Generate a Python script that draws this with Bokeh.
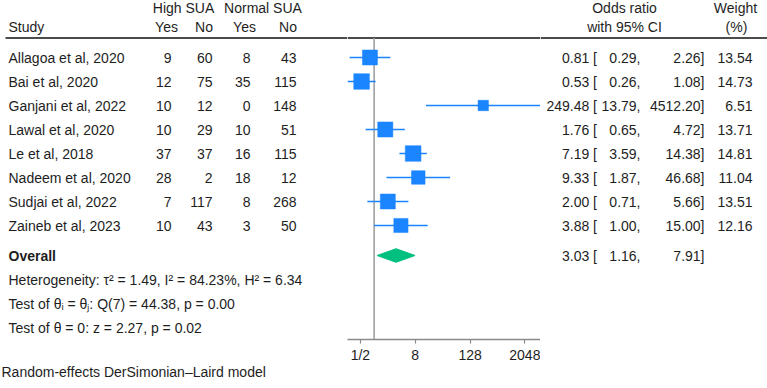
import math
from bokeh.plotting import figure
from bokeh.layouts import row
from bokeh.models import Range1d, FixedTicker, ColumnDataSource, Title
from bokeh.core.properties import value
from bokeh.embed import file_html
from bokeh.resources import INLINE

# ---------------- data ----------------
studies = ["Allagoa et al, 2020", "Bai et al, 2020", "Ganjani et al, 2022", "Lawal et al, 2020",
           "Le et al, 2018", "Nadeem et al, 2020", "Sudjai et al, 2022", "Zaineb et al, 2023"]
high_yes = [9, 12, 10, 10, 37, 28, 7, 10]
high_no = [60, 75, 12, 29, 37, 2, 117, 43]
norm_yes = [8, 35, 0, 10, 16, 18, 8, 3]
norm_no = [43, 115, 148, 51, 115, 12, 268, 50]
odds = [0.81, 0.53, 249.48, 1.76, 7.19, 9.33, 2.00, 3.88]
ci_lo = [0.29, 0.26, 13.79, 0.65, 3.59, 1.87, 0.71, 1.00]
ci_hi = [2.26, 1.08, 4512.20, 4.72, 14.38, 46.68, 5.66, 15.00]
weights = [13.54, 14.73, 6.51, 13.71, 14.81, 11.04, 13.51, 12.16]
overall_or = 3.03
overall_lo = 1.16
overall_hi = 7.91
tick_values = [0.5, 8, 128, 2048]
tick_labels = ["1/2", "8", "128", "2048"]
stats_lines = ["Heterogeneity: \u03c4\u00b2 = 1.49, I\u00b2 = 84.23%, H\u00b2 = 6.34",
               "Test of \u03b8\u1d62 = \u03b8\u2c7c: Q(7) = 44.38, p = 0.00",
               "Test of \u03b8 = 0: z = 2.27, p = 0.02"]
footer = "Random-effects DerSimonian\u2013Laird model"

# ---------------- layout constants ----------------
W, H = 767, 388
ROW_PX = 24.0
FIRST_PX = 57.0
LEFT_W, MID_W = 347, 193
RIGHT_W = W - LEFT_W - MID_W
AXIS_PANEL = 49
FRAME_H = H - AXIS_PANEL
FONT = value("Liberation Sans")
FS = "14px"
TXT = "#1e1e1e"
BLUE = "#1a85ff"
GREEN = "#00bf7f"

n = len(studies)
rows = list(range(n))
overall_row = n + 0.25
header1_row = (7.5 - FIRST_PX) / ROW_PX
header2_row = (26.5 - FIRST_PX) / ROW_PX
line_row = (37.5 - FIRST_PX) / ROW_PX


def yr():
    return Range1d(start=(FRAME_H - FIRST_PX) / ROW_PX, end=-FIRST_PX / ROW_PX)


def base_fig(width, x_range, **kw):
    p = figure(width=width, height=H, x_range=x_range, y_range=yr(),
               output_backend="svg", toolbar_location=None, min_border=0,
               outline_line_color=None, background_fill_color="white",
               border_fill_color="white", **kw)
    p.min_border_bottom = AXIS_PANEL
    p.grid.visible = False
    return p


def txt(p, x, y, t, align="left", bold=False, size=FS):
    p.text(x=x, y=y, text=t, text_font=FONT, text_font_size=size, text_color=TXT,
           text_align=align, text_baseline="middle",
           text_font_style="bold" if bold else "normal")


# ---------------- left panel ----------------
left = base_fig(LEFT_W, Range1d(0, LEFT_W), x_axis_location=None, y_axis_location=None)
txt(left, [183], [header1_row], ["High SUA"], align="center")
txt(left, [262.5], [header1_row], ["Normal SUA"], align="center")
txt(left, [8], [header2_row], ["Study"])
txt(left, [166, 203.5, 244, 287.5], [header2_row] * 4, ["Yes", "No", "Yes", "No"], align="center")
left.segment(x0=[5], x1=[LEFT_W], y0=[line_row], y1=[line_row], line_color="#111111", line_width=1.4)
txt(left, [8] * n, rows, studies)
txt(left, [171] * n, rows, [str(v) for v in high_yes], align="right")
txt(left, [212] * n, rows, [str(v) for v in high_no], align="right")
txt(left, [250] * n, rows, [str(v) for v in norm_yes], align="right")
txt(left, [296] * n, rows, [str(v) for v in norm_no], align="right")
txt(left, [8], [overall_row], ["Overall"], bold=True)
txt(left, [8] * 3, [overall_row + 1 + i for i in range(3)], stats_lines)
left.add_layout(Title(text="\n" + footer, align="left", offset=1, standoff=4,
                      vertical_align="bottom", text_line_height=1.3,
                      text_font="Liberation Sans", text_font_size=FS,
                      text_font_style="normal", text_color=TXT), "below")

# ---------------- middle (forest) panel ----------------
mid = base_fig(MID_W, Range1d(min(ci_lo), max(ci_hi)), x_axis_type="log", y_axis_location=None)
ax = mid.xaxis[0]
ax.ticker = FixedTicker(ticks=tick_values)
ax.major_label_overrides = {t: l for t, l in zip(tick_values, tick_labels)}
ax.minor_tick_line_color = None
ax.axis_line_color = "#8a8a8a"
ax.axis_line_width = 1.4
ax.major_tick_line_color = "#8a8a8a"
ax.major_tick_line_width = 1.2
ax.major_tick_in = 0
ax.major_tick_out = 4
ax.major_label_standoff = 3
ax.major_label_text_font = "Liberation Sans"
ax.major_label_text_font_size = FS
ax.major_label_text_color = TXT

mid.segment(x0=[min(ci_lo)], x1=[max(ci_hi)], y0=[line_row], y1=[line_row],
            line_color="#111111", line_width=1.4)
mid.segment(x0=[1], x1=[1], y0=[line_row], y1=[(FRAME_H - FIRST_PX) / ROW_PX],
            line_color="#a0a0a0", line_width=1.6)
src = ColumnDataSource(dict(y=rows, od=odds, lo=ci_lo, hi=ci_hi,
                            size=[4.08 * math.sqrt(w) for w in weights]))
mid.segment(x0="lo", x1="hi", y0="y", y1="y", source=src, line_color=BLUE, line_width=1.3)
mid.scatter(x="od", y="y", size="size", marker="square", source=src,
            fill_color=BLUE, line_color=BLUE, line_width=0.5)
dh = 6.8 / ROW_PX
mid.patch(x=[overall_lo, overall_or, overall_hi, overall_or],
          y=[overall_row, overall_row - dh, overall_row, overall_row + dh],
          fill_color=GREEN, line_color=GREEN)

# ---------------- right panel ----------------
x0r = LEFT_W + MID_W
right = base_fig(RIGHT_W, Range1d(x0r, W), x_axis_location=None, y_axis_location=None)
right.segment(x0=[x0r], x1=[W], y0=[line_row], y1=[line_row], line_color="#111111", line_width=1.4)
txt(right, [624, 735], [header1_row] * 2, ["Odds ratio", "Weight"], align="center")
txt(right, [624, 736], [header2_row] * 2, ["with 95% CI", "(%)"], align="center")
all_rows = rows + [overall_row]
txt(right, [596.5] * (n + 1), all_rows, [f"{v:.2f} [" for v in odds + [overall_or]], align="right")
txt(right, [640] * (n + 1), all_rows, [f"{v:.2f}," for v in ci_lo + [overall_lo]], align="right")
txt(right, [704] * (n + 1), all_rows, [f"{v:.2f}]" for v in ci_hi + [overall_hi]], align="right")
txt(right, [752] * n, rows, [f"{v:.2f}" for v in weights], align="right")

layout = row(left, mid, right, spacing=0)
open("out.html", "w").write(file_html(layout, INLINE))
